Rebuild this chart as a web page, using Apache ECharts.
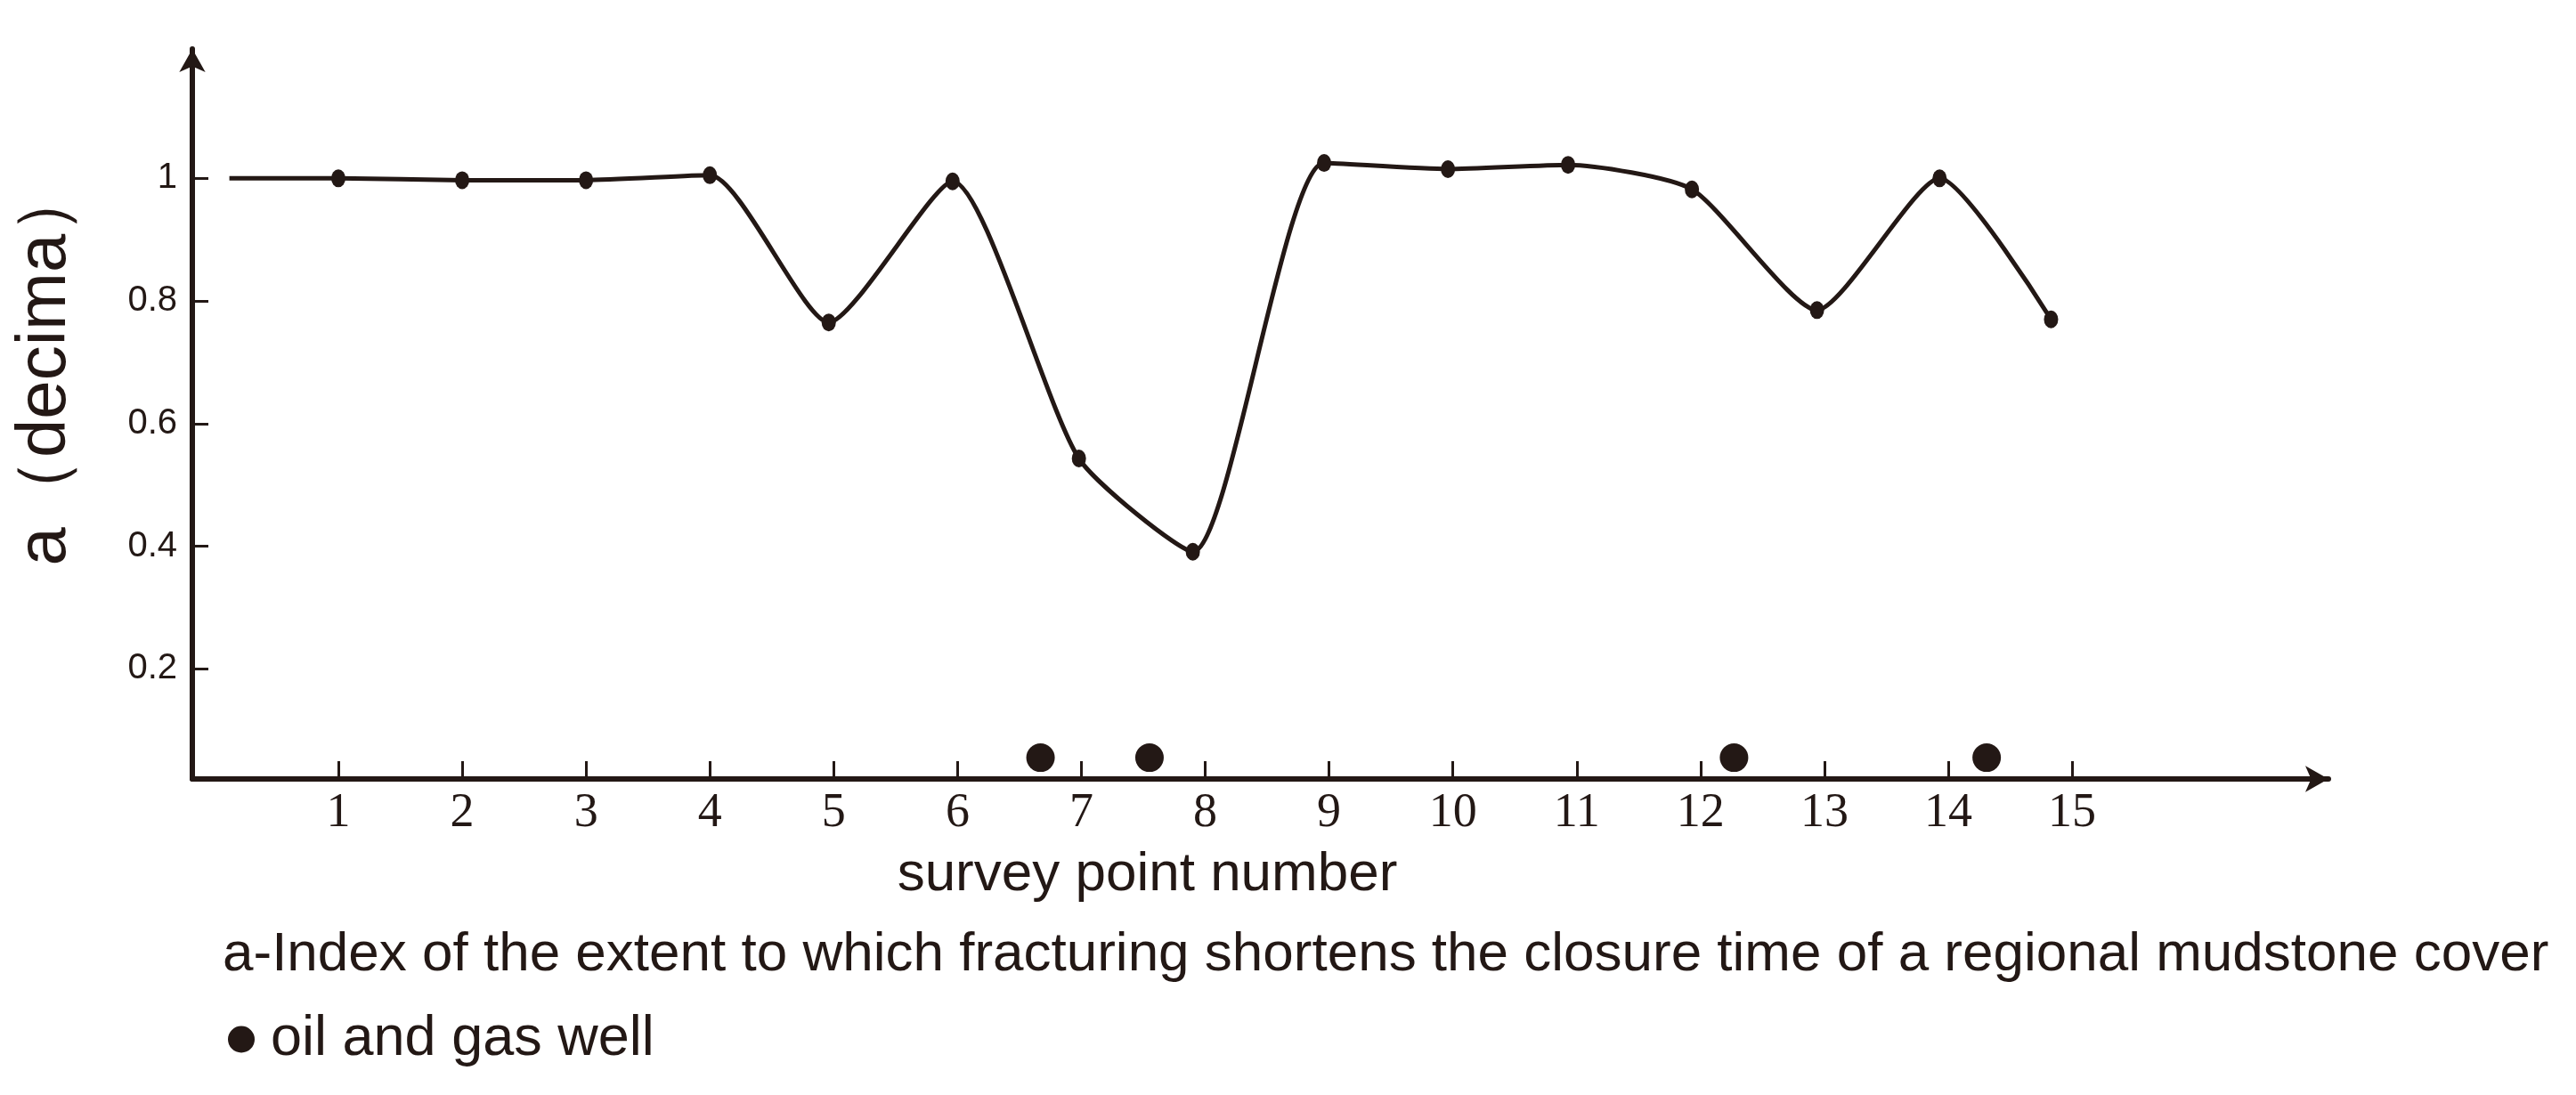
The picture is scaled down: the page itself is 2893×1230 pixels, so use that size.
<!DOCTYPE html>
<html>
<head>
<meta charset="utf-8">
<script src="https://cdn.jsdelivr.net/npm/echarts@6/dist/echarts.min.js"></script>
<style>
  html, body { margin: 0; padding: 0; background: #ffffff; }
  #chart { width: 2893px; height: 1230px; }
</style>
</head>
<body>
<div id="chart"></div>
<script>
// ---- data ----
const tickNumbers = [1, 2, 3, 4, 5, 6, 7, 8, 9, 10, 11, 12, 13, 14, 15];
const yTickValues = [0.2, 0.4, 0.6, 0.8, 1];
const lineStart = [0.12, 1.0];
const pointX = [1, 2, 3, 4, 4.96, 5.96, 6.98, 7.9, 8.96, 9.96, 10.93, 11.93, 12.94, 13.93, 14.83];
const aValue = [1.0, 0.997, 0.997, 1.005, 0.765, 0.995, 0.543, 0.391, 1.025, 1.015, 1.022, 0.982, 0.785, 1.0, 0.770];
const wellX = [6.67, 7.55, 12.27, 14.31];
const wellY = [0.055, 0.055, 0.055, 0.055];

const INK = '#231815';
const SANS = '"Liberation Sans", Arial, sans-serif';
const SERIF = '"Liberation Serif", "Times New Roman", serif';

const lineData = [{ value: lineStart, symbol: 'none' }].concat(
  pointX.map((x, i) => [x, aValue[i]])
);
const wellData = wellX.map((x, i) => [x, wellY[i]]);

const chart = echarts.init(document.getElementById('chart'), null, { renderer: 'canvas' });
chart.setOption({
  backgroundColor: '#ffffff',
  animation: false,
  title: {
    text: 'a-Index of the extent to which fracturing shortens the closure time of a regional mudstone cover',
    left: 250,
    top: 1042,
    padding: 0,
    textStyle: { fontFamily: SANS, fontSize: 62, fontWeight: 'normal', color: INK }
  },
  legend: {
    data: ['oil and gas well'],
    left: 256,
    top: 1136,
    padding: 0,
    icon: 'circle',
    itemWidth: 30,
    itemHeight: 30,
    textStyle: { fontFamily: SANS, fontSize: 63, color: INK, padding: [0, 0, 0, 13] }
  },
  grid: { left: 216, right: 278, top: 55, bottom: 1230 - 875, containLabel: false },
  xAxis: {
    type: 'value',
    min: -0.179,
    max: 17.07,
    name: 'survey point number',
    nameLocation: 'middle',
    nameGap: 77,
    nameTextStyle: { fontFamily: SANS, fontSize: 62, color: INK, padding: [0, 254, 0, 0] },
    splitLine: { show: false },
    axisLine: {
      onZero: false,
      symbol: ['none', 'arrow'],
      symbolSize: [22, 26],
      lineStyle: { color: INK, width: 6 }
    },
    axisTick: {
      customValues: tickNumbers,
      inside: true,
      length: 20,
      lineStyle: { color: INK, width: 3 }
    },
    axisLabel: {
      customValues: tickNumbers,
      margin: 12,
      fontFamily: SERIF,
      fontSize: 54,
      color: INK
    }
  },
  yAxis: {
    type: 'value',
    min: 0.0203,
    max: 1.211,
    name: 'a（decima）',
    nameLocation: 'middle',
    nameGap: 126,
    nameRotate: 90,
    nameTextStyle: { fontFamily: SANS, fontSize: 78, color: INK, padding: [0, 0, 0, 110] },
    splitLine: { show: false },
    axisLine: {
      onZero: false,
      symbol: ['none', 'arrow'],
      symbolSize: [22, 26],
      lineStyle: { color: INK, width: 6 }
    },
    axisTick: {
      customValues: yTickValues,
      inside: true,
      length: 18,
      lineStyle: { color: INK, width: 3 }
    },
    axisLabel: {
      customValues: yTickValues,
      margin: 17,
      fontFamily: SANS,
      fontSize: 40,
      color: INK,
      formatter: v => String(v)
    }
  },
  series: [
    {
      name: 'a',
      type: 'line',
      data: lineData,
      smooth: 0.2,
      symbol: 'circle',
      symbolSize: [16, 20],
      showAllSymbol: true,
      lineStyle: { color: INK, width: 5 },
      itemStyle: { color: INK },
      z: 3
    },
    {
      name: 'oil and gas well',
      type: 'scatter',
      data: wellData,
      symbol: 'circle',
      symbolSize: 32,
      itemStyle: { color: INK, opacity: 1 },
      z: 4
    }
  ]
});
</script>
</body>
</html>
